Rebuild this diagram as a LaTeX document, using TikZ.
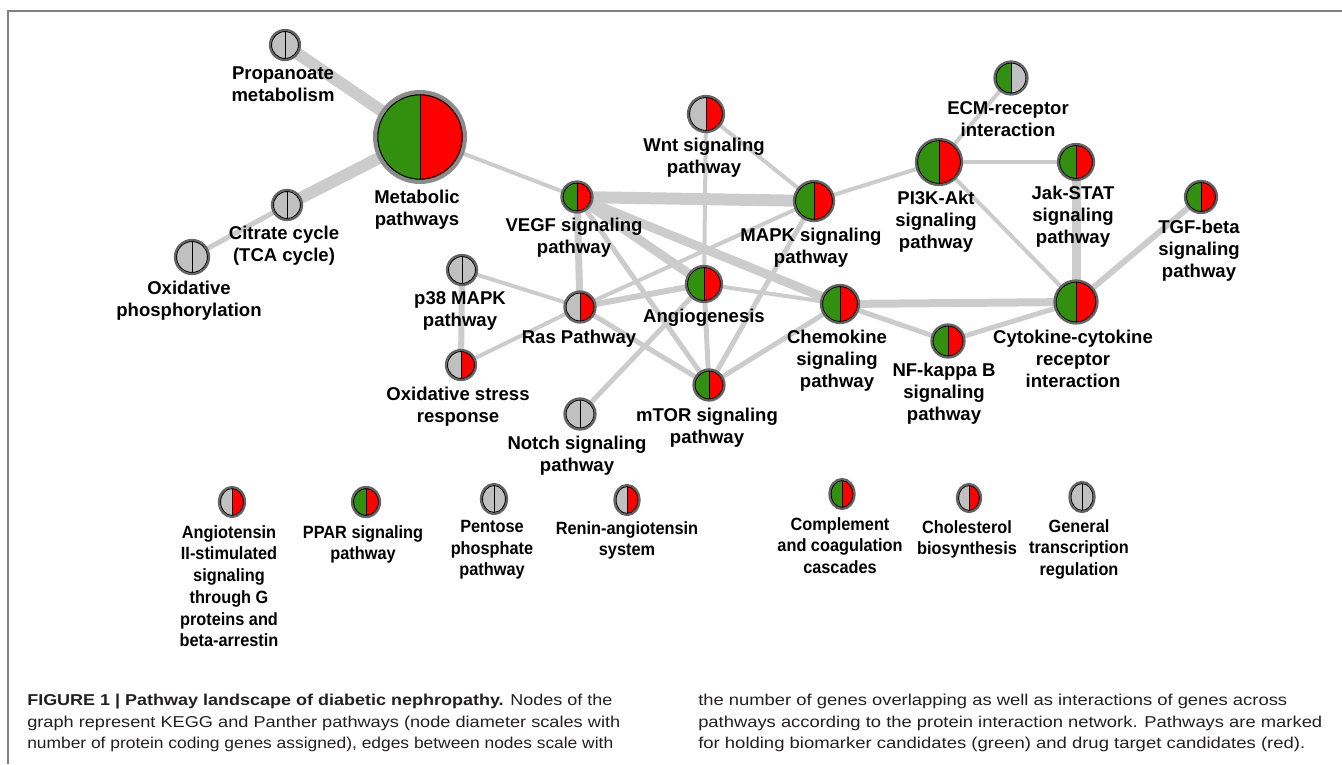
\documentclass[tikz,border=0pt]{standalone}
\usepackage{fontspec}
\usepackage{graphicx}
\setmainfont{Liberation Sans}
\newfontfamily\lblfont{Liberation Sans}
\newfontfamily\narrowfont[FakeStretch=0.92]{Liberation Sans}
\newfontfamily\capfont[FakeStretch=0.9]{Liberation Sans}
\usetikzlibrary{backgrounds,shapes.geometric}
\newdimen\pxu \pxu=0.75pt
\definecolor{nodegreen}{RGB}{51,143,15}
\definecolor{nodered}{RGB}{255,0,0}
\definecolor{nodegray}{RGB}{192,192,192}
\definecolor{ringgray}{RGB}{100,100,100}
\definecolor{bigring}{RGB}{140,140,140}
\definecolor{edgegray}{RGB}{204,204,204}
\definecolor{framegray}{RGB}{128,128,128}
\definecolor{captext}{RGB}{35,31,32}
\tikzset{
  pnode/.style={circle, draw=ringgray, line width=1.7pt, inner sep=0pt, outer sep=0pt},
  bignode/.style={circle, draw=bigring, line width=3pt, inner sep=0pt, outer sep=0pt},
  halves/.style n args={4}{minimum size={2*#3*\pxu}, path picture={
      \fill[#1] (path picture bounding box.south west) rectangle (path picture bounding box.north);
      \fill[#2] (path picture bounding box.south) rectangle (path picture bounding box.north east);
      \draw[black, line width=0.6pt] (path picture bounding box.south) -- (path picture bounding box.north);
      \draw[black, line width=0.8pt] (path picture bounding box.center) circle [radius={#3*\pxu-#4}];
  }},
  enode/.style={ellipse, draw=ringgray, line width=1.7pt, inner sep=0pt, outer sep=0pt},
  ehalves/.style n args={4}{minimum width={2*#3*\pxu}, minimum height={2*#4*\pxu}, path picture={
      \fill[#1] (path picture bounding box.south west) rectangle (path picture bounding box.north);
      \fill[#2] (path picture bounding box.south) rectangle (path picture bounding box.north east);
      \draw[black, line width=0.6pt] (path picture bounding box.south) -- (path picture bounding box.north);
      \draw[black, line width=0.8pt] (path picture bounding box.center) ellipse [x radius={#3*\pxu-1.1pt}, y radius={#4*\pxu-1.1pt}];
  }},
  lbl/.style={anchor=north, align=center, inner sep=0pt, text=black,
      font=\lblfont\bfseries\fontsize{13.9}{16.5}\selectfont},
  blbl/.style={anchor=north, align=center, inner sep=0pt, text=black,
      font=\narrowfont\bfseries\fontsize{13.3}{16.3}\selectfont},
  lnk/.style={draw=edgegray, line width={#1*\pxu}},
  capline/.style={anchor=base west, inner sep=0pt, text=captext,
      font=\capfont\fontsize{11.8}{16}\selectfont},
}
\begin{document}
\begin{tikzpicture}[x=0.75pt, y=-0.75pt]
\useasboundingbox (0,0) rectangle (1342,764);
% frame
\draw[framegray, line width={2*\pxu}] (1342,11) -- (8,11) -- (8,764);

% ---- network nodes ----
\node[pnode, halves={nodegray}{nodegray}{15}{1.1pt}] (prop) at (285,45) {};
\node[bignode, halves={nodegreen}{nodered}{45}{2.1pt}] (metab) at (420,137) {};
\node[pnode, halves={nodegray}{nodegray}{15}{1.1pt}] (citrate) at (287,205) {};
\node[pnode, halves={nodegray}{nodegray}{17}{1.1pt}] (oxphos) at (192,257) {};
\node[pnode, halves={nodegray}{nodered}{18}{1.1pt}] (wnt) at (706,114) {};
\node[pnode, halves={nodegreen}{nodered}{15.5}{1.1pt}] (vegf) at (577,197) {};
\node[pnode, halves={nodegreen}{nodered}{20}{1.1pt}] (mapk) at (814,201) {};
\node[pnode, halves={nodegreen}{nodered}{23}{1.1pt}] (pi3k) at (939,162) {};
\node[pnode, halves={nodegreen}{nodegray}{16.5}{1.1pt}] (ecm) at (1011,78) {};
\node[pnode, halves={nodegreen}{nodered}{18}{1.1pt}] (jak) at (1076,162) {};
\node[pnode, halves={nodegreen}{nodered}{16}{1.1pt}] (tgf) at (1201,197) {};
\node[pnode, halves={nodegreen}{nodered}{21.5}{1.1pt}] (cyto) at (1076,302) {};
\node[pnode, halves={nodegray}{nodegray}{15}{1.1pt}] (p38) at (462,270) {};
\node[pnode, halves={nodegray}{nodered}{15.5}{1.1pt}] (ras) at (580,307) {};
\node[pnode, halves={nodegreen}{nodered}{18}{1.1pt}] (angio) at (704,284) {};
\node[pnode, halves={nodegray}{nodered}{15}{1.1pt}] (oxstress) at (461,365) {};
\node[pnode, halves={nodegray}{nodegray}{15.5}{1.1pt}] (notch) at (580,414) {};
\node[pnode, halves={nodegreen}{nodered}{15.5}{1.1pt}] (mtor) at (709,385) {};
\node[pnode, halves={nodegreen}{nodered}{19}{1.1pt}] (chemo) at (840,304) {};
\node[pnode, halves={nodegreen}{nodered}{16.5}{1.1pt}] (nfkb) at (948,341) {};

% ---- unconnected nodes ----
\node[enode, ehalves={nodegray}{nodered}{13}{15}] (angiot) at (232,502) {};
\node[enode, ehalves={nodegreen}{nodered}{14}{15}] (ppar) at (366,502) {};
\node[enode, ehalves={nodegray}{nodegray}{13}{15}] (pentose) at (494,499) {};
\node[enode, ehalves={nodegray}{nodered}{12.5}{15}] (renin) at (627,500) {};
\node[enode, ehalves={nodegreen}{nodered}{12.5}{15}] (complement) at (842,494) {};
\node[enode, ehalves={nodegray}{nodered}{12}{14}] (chol) at (969,498) {};
\node[enode, ehalves={nodegray}{nodegray}{12.5}{15}] (general) at (1082,497) {};

% ---- labels ----
\node[lbl] (prop-l) at (283,66) {Propanoate\\metabolism};
\node[lbl] (metab-l) at (417,190) {Metabolic\\pathways};
\node[lbl] (citrate-l) at (284,226) {Citrate cycle\\(TCA cycle)};
\node[lbl] (oxphos-l) at (189,281) {Oxidative\\phosphorylation};
\node[lbl] (wnt-l) at (704,138) {Wnt signaling\\pathway};
\node[lbl] (vegf-l) at (574,218) {VEGF signaling\\pathway};
\node[lbl] (mapk-l) at (811,228) {MAPK signaling\\pathway};
\node[lbl] (pi3k-l) at (936,191) {PI3K-Akt\\signaling\\pathway};
\node[lbl] (ecm-l) at (1008,101) {ECM-receptor\\interaction};
\node[lbl] (jak-l) at (1073,186) {Jak-STAT\\signaling\\pathway};
\node[lbl] (tgf-l) at (1199,220) {TGF-beta\\signaling\\pathway};
\node[lbl] (cyto-l) at (1073,330) {Cytokine-cytokine\\receptor\\interaction};
\node[lbl] (p38-l) at (460,291) {p38 MAPK\\pathway};
\node[lbl] (ras-l) at (579,330) {Ras Pathway};
\node[lbl] (angio-l) at (704,309) {Angiogenesis};
\node[lbl] (oxstress-l) at (458,387) {Oxidative stress\\response};
\node[lbl] (notch-l) at (577,436) {Notch signaling\\pathway};
\node[lbl] (mtor-l) at (707,408) {mTOR signaling\\pathway};
\node[lbl] (chemo-l) at (837,330) {Chemokine\\signaling\\pathway};
\node[lbl] (nfkb-l) at (944,363) {NF-kappa B\\signaling\\pathway};

\node[blbl] (angiot-l) at (229,525) {Angiotensin\\II-stimulated\\signaling\\through G\\proteins and\\beta-arrestin};
\node[blbl] (ppar-l) at (363,525) {PPAR signaling\\pathway};
\node[blbl] (pentose-l) at (492,520) {Pentose\\phosphate\\pathway};
\node[blbl] (renin-l) at (627,521) {Renin-angiotensin\\system};
\node[blbl] (complement-l) at (840,517) {Complement\\and coagulation\\cascades};
\node[blbl] (chol-l) at (967,520) {Cholesterol\\biosynthesis};
\node[blbl] (general-l) at (1079,519) {General\\transcription\\regulation};

% ---- edges ----
\begin{pgfonlayer}{background}
\draw[lnk=12] (prop.center) -- (metab.center);
\draw[lnk=12] (citrate.center) -- (metab.center);
\draw[lnk=5] (oxphos.center) -- (citrate.center);
\draw[lnk=4] (metab.center) -- (vegf.center);
\draw[lnk=12] (vegf.center) -- (mapk.center);
\draw[lnk=4] (wnt.center) -- (mapk.center);
\draw[lnk=4] (wnt.center) -- (angio.center);
\draw[lnk=5] (angio.center) -- (mtor.center);
\draw[lnk=4] (mapk.center) -- (pi3k.center);
\draw[lnk=4] (mapk.center) -- (ras.center);
\draw[lnk=5] (mapk.center) -- (mtor.center);
\draw[lnk=7] (vegf.center) -- (ras.center);
\draw[lnk=9] (vegf.center) -- (angio.center);
\draw[lnk=9] (vegf.center) -- (chemo.center);
\draw[lnk=5] (vegf.center) -- (mtor.center);
\draw[lnk=4] (p38.center) -- (ras.center);
\draw[lnk=6] (p38.center) -- (oxstress.center);
\draw[lnk=4] (oxstress.center) -- (ras.center);
\draw[lnk=6] (ras.center) -- (angio.center);
\draw[lnk=5] (ras.center) -- (mtor.center);
\draw[lnk=4] (angio.center) -- (chemo.center);
\draw[lnk=5] (notch.center) -- (angio.center);
\draw[lnk=5] (chemo.center) -- (mtor.center);
\draw[lnk=8] (chemo.center) -- (cyto.center);
\draw[lnk=5] (chemo.center) -- (nfkb.center);
\draw[lnk=5] (nfkb.center) -- (cyto.center);
\draw[lnk=4] (pi3k.center) -- (jak.center);
\draw[lnk=4] (pi3k.center) -- (ecm.center);
\draw[lnk=4] (pi3k.center) -- (cyto.center);
\draw[lnk=9] (jak.center) -- (cyto.center);
\draw[lnk=6] (tgf.center) -- (cyto.center);
\end{pgfonlayer}

% ---- caption ----
\node[capline] (cap1) at (27,705) {\resizebox{585\pxu}{\height}{\textbf{FIGURE 1 | Pathway landscape of diabetic nephropathy.} Nodes of the}};
\node[capline] (cap2) at (27,727) {\resizebox{593\pxu}{\height}{graph represent KEGG and Panther pathways (node diameter scales with}};
\node[capline] (cap3) at (27,748) {\resizebox{586\pxu}{\height}{number of protein coding genes assigned), edges between nodes scale with}};
\node[capline] (cap4) at (698,705) {\resizebox{589\pxu}{\height}{the number of genes overlapping as well as interactions of genes across}};
\node[capline] (cap5) at (698,727) {\resizebox{624\pxu}{\height}{pathways according to the protein interaction network. Pathways are marked}};
\node[capline] (cap6) at (698,748) {\resizebox{607\pxu}{\height}{for holding biomarker candidates (green) and drug target candidates (red).}};
\end{tikzpicture}
\end{document}
